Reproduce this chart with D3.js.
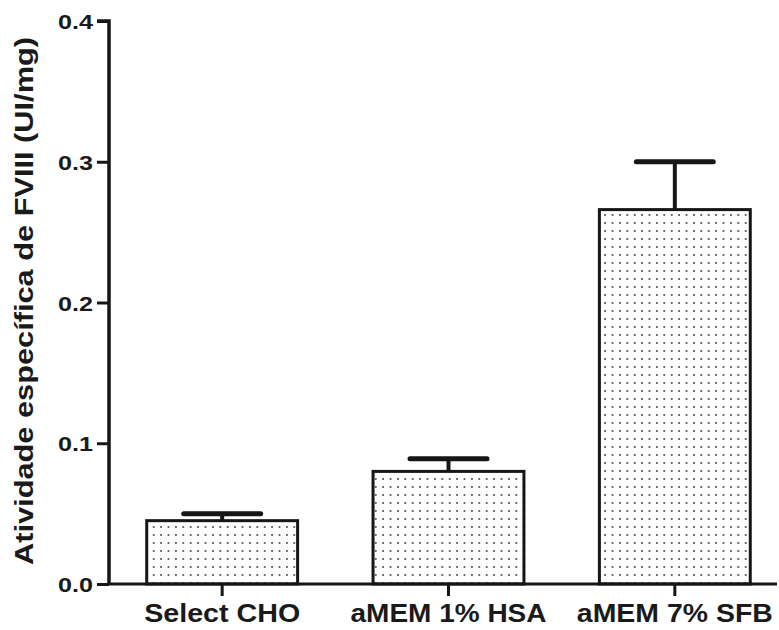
<!DOCTYPE html>
<html>
<head>
<meta charset="utf-8">
<script src="https://cdn.jsdelivr.net/npm/d3@7"></script>
<style>
  html, body { margin: 0; padding: 0; background: #fff; }
  svg { display: block; }
  text { font-family: "Liberation Sans", Arial, sans-serif; font-weight: bold; fill: #1a1a1a; }
</style>
</head>
<body>
<script>
// Specific FVIII activity by culture medium (mean + SD)
const categories = ["Select CHO", "aMEM 1% HSA", "aMEM 7% SFB"];
const means = [0.045, 0.080, 0.266];
const errors = [0.005, 0.009, 0.034];
const yTicks = [0.0, 0.1, 0.2, 0.3, 0.4];
const yTitle = "Atividade específica de FVIII (UI/mg)";

const W = 779, H = 630;
const svg = d3.select("body").append("svg").attr("width", W).attr("height", H);

const x0 = 109, baseY = 584, topY = 21;
const x = d3.scaleBand().domain(categories).range([x0, 788])
  .paddingInner(1 / 3).paddingOuter(1 / 6);
const y = d3.scaleLinear().domain([0, 0.4]).range([baseY, topY]);

// stipple fill for the bars
const defs = svg.append("defs");
const pat = defs.append("pattern").attr("id", "dots")
  .attr("patternUnits", "userSpaceOnUse")
  .attr("width", 7.4).attr("height", 8)
  .attr("x", 150).attr("y", 3);
pat.append("rect").attr("width", 7.4).attr("height", 8).attr("fill", "#fff");
pat.append("circle").attr("cx", 3.7).attr("cy", 4).attr("r", 1.0).attr("fill", "#444");

const ink = "#161616";

// error bars (drawn first so the bar outline sits on top of the stem)
const eb = svg.append("g");
categories.forEach((c, i) => {
  const cx = x(c) + x.bandwidth() / 2;
  const half = x.bandwidth() * 0.255;
  eb.append("line")
    .attr("x1", cx).attr("x2", cx)
    .attr("y1", y(means[i])).attr("y2", y(means[i] + errors[i]))
    .attr("stroke", ink).attr("stroke-width", 4);
  eb.append("line")
    .attr("x1", cx - half).attr("x2", cx + half)
    .attr("y1", y(means[i] + errors[i])).attr("y2", y(means[i] + errors[i]))
    .attr("stroke", ink).attr("stroke-width", 5).attr("stroke-linecap", "round");
});

// bars
svg.append("g").selectAll("rect").data(categories).join("rect")
  .attr("x", d => x(d))
  .attr("y", (d, i) => y(means[i]))
  .attr("width", x.bandwidth())
  .attr("height", (d, i) => baseY - y(means[i]))
  .attr("fill", "url(#dots)")
  .attr("stroke", ink).attr("stroke-width", 3);

// y axis
const yAxis = d3.axisLeft(y).tickValues(yTicks).tickFormat(d3.format(".1f"))
  .tickSize(12).tickPadding(4);
const gy = svg.append("g").attr("transform", `translate(${x0},0)`).call(yAxis);
gy.select(".domain").attr("stroke", ink).attr("stroke-width", 3.5)
  .attr("d", `M-12,${topY}H0V${baseY}`);
gy.selectAll(".tick line").attr("stroke", ink).attr("stroke-width", 3);
gy.selectAll(".tick text")
  .style("font-size", "21px")
  .attr("dy", "0.36em")
  .attr("textLength", 35).attr("lengthAdjust", "spacingAndGlyphs");

// x axis
const xAxis = d3.axisBottom(x).tickSize(12).tickPadding(6);
const gx = svg.append("g").attr("transform", `translate(0,${baseY})`).call(xAxis);
gx.select(".domain").attr("stroke", ink).attr("stroke-width", 3.2)
  .attr("d", `M${x0},0H777`);
gx.selectAll(".tick line").attr("stroke", ink).attr("stroke-width", 3);
const labelW = { "Select CHO": 156, "aMEM 1% HSA": 196, "aMEM 7% SFB": 196 };
gx.selectAll(".tick text")
  .style("font-size", "26px")
  .attr("y", 0).attr("dy", 0)
  .attr("transform", "translate(0,38)")
  .attr("textLength", d => labelW[d]).attr("lengthAdjust", "spacingAndGlyphs");

// y axis title
svg.append("text")
  .attr("transform", "translate(33,301) rotate(-90)")
  .attr("text-anchor", "middle")
  .style("font-size", "26px")
  .attr("textLength", 528).attr("lengthAdjust", "spacingAndGlyphs")
  .text(yTitle);
</script>
</body>
</html>
